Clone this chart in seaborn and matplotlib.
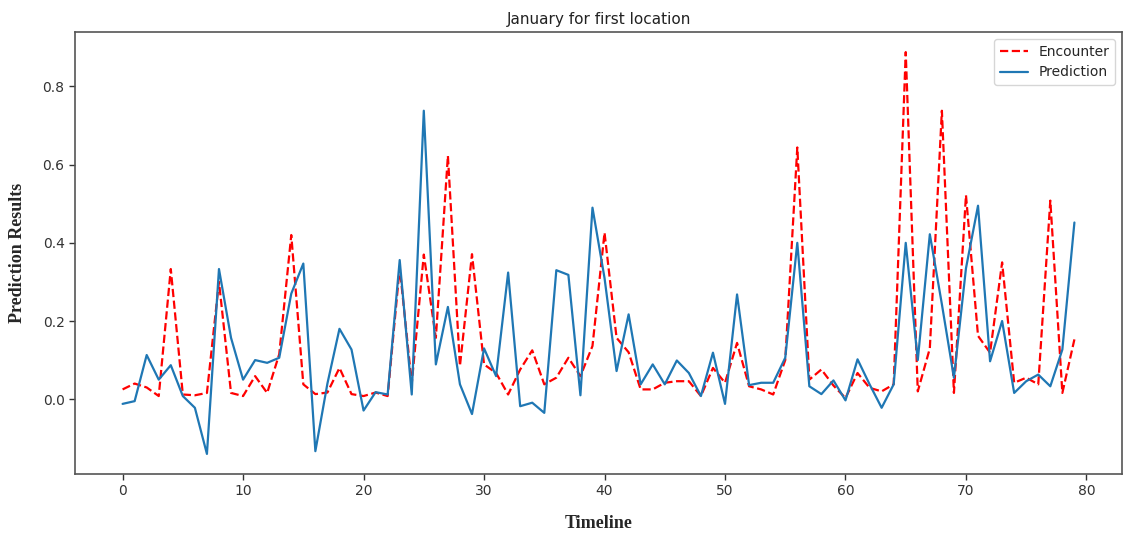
import numpy as np
import pandas as pd
import matplotlib
matplotlib.use("Agg")
import matplotlib.pyplot as plt
import seaborn as sns

timeline = list(range(80))

encounter = [0.025, 0.04, 0.03, 0.008, 0.333, 0.012, 0.01, 0.016, 0.30, 0.016,
             0.008, 0.059, 0.016, 0.115, 0.42, 0.038, 0.013, 0.017, 0.08, 0.013,
             0.008, 0.017, 0.008, 0.337, 0.04, 0.37, 0.157, 0.623, 0.085, 0.371,
             0.089, 0.067, 0.012, 0.076, 0.125, 0.038, 0.055, 0.106, 0.059, 0.136,
             0.426, 0.157, 0.12, 0.025, 0.025, 0.042, 0.046, 0.046, 0.008, 0.08,
             0.042, 0.144, 0.033, 0.025, 0.012, 0.10, 0.644, 0.05, 0.076, 0.035,
             0.003, 0.067, 0.029, 0.02, 0.038, 0.888, 0.02, 0.13, 0.738, 0.016,
             0.522, 0.162, 0.119, 0.35, 0.042, 0.055, 0.038, 0.508, 0.016, 0.153]

prediction = [-0.012, -0.005, 0.113, 0.05, 0.087, 0.008, -0.022, -0.14, 0.333, 0.157,
              0.05, 0.10, 0.093, 0.106, 0.27, 0.347, -0.133, 0.04, 0.18, 0.127,
              -0.029, 0.018, 0.012, 0.356, 0.012, 0.738, 0.089, 0.236, 0.038, -0.038,
              0.13, 0.059, 0.324, -0.018, -0.009, -0.035, 0.33, 0.318, 0.01, 0.49,
              0.31, 0.072, 0.217, 0.038, 0.089, 0.038, 0.099, 0.067, 0.008, 0.119,
              -0.012, 0.268, 0.036, 0.042, 0.042, 0.106, 0.40, 0.033, 0.013, 0.048,
              -0.003, 0.102, 0.038, -0.022, 0.038, 0.40, 0.10, 0.422, 0.243, 0.055,
              0.335, 0.495, 0.097, 0.20, 0.016, 0.046, 0.063, 0.033, 0.127, 0.452]

df = pd.DataFrame({"Timeline": timeline, "Encounter": encounter, "Prediction": prediction})

sns.set_style("ticks")
plt.rcParams['font.family'] = ['DejaVu Sans']

fig, ax = plt.subplots(figsize=(11.25, 5.37), dpi=100)
fig.subplots_adjust(left=75/1125, right=1122/1125, top=1-32/537, bottom=1-474/537)

sns.lineplot(data=df, x="Timeline", y="Encounter", ax=ax, color="red",
             linestyle="--", linewidth=1.6, label="Encounter")
sns.lineplot(data=df, x="Timeline", y="Prediction", ax=ax, color="#1f77b4",
             linewidth=1.6, label="Prediction")

ax.set_xticks(range(0, 81, 10))
ax.set_yticks([0.0, 0.2, 0.4, 0.6, 0.8])
ax.tick_params(labelsize=10, colors="#333333", length=4, width=1, direction="out")
for s in ax.spines.values():
    s.set_color("#555555")
    s.set_linewidth(1.2)

ax.set_title("January for first location", fontsize=11, color="#222222")
ax.set_xlabel("Timeline", fontsize=13, fontweight="bold", family="Liberation Serif", labelpad=12)
ax.set_ylabel("Prediction Results", fontsize=13, fontweight="bold", family="Liberation Serif", labelpad=12)
ax.legend(loc="upper right", fontsize=10, frameon=True)

fig.savefig("out.png", dpi=100)
